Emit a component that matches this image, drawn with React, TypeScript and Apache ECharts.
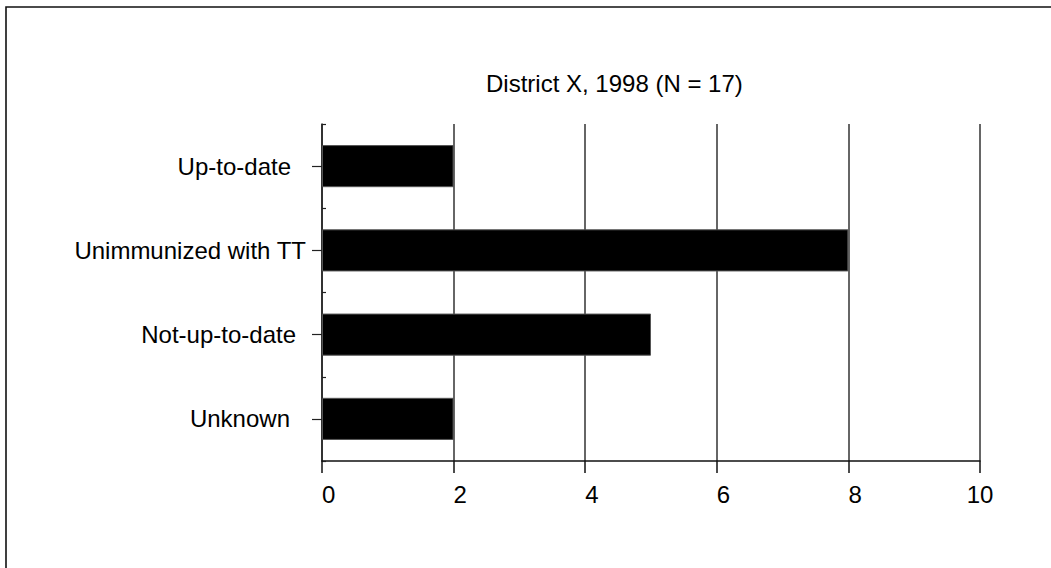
import React, { useEffect, useRef } from 'react';
import * as echarts from 'echarts';

const categories = ['Up-to-date', 'Unimmunized with TT', 'Not-up-to-date', 'Unknown'];
const counts = [2, 8, 5, 2];
const xMin = 0;
const xMax = 10;
const xInterval = 2;
const titleText = 'District X, 1998 (N = 17)';

// per-label extra right padding (styling only)
const labelRightPad = [15, 0, 10, 16];

export default function App() {
  const ref = useRef<HTMLDivElement>(null);
  useEffect(() => {
    const chart = echarts.init(ref.current!, null, { renderer: 'svg' });
    const font = 'Arial, "Liberation Sans", sans-serif';
    const rich: any = {};
    labelRightPad.forEach((p, i) => {
      rich['p' + i] = { padding: [0, p, 0, 0], fontSize: 24, fontFamily: font, color: '#000', lineHeight: 24 };
    });
    chart.setOption({
      animation: false,
      backgroundColor: '#fff',
      textStyle: { fontFamily: font },
      title: {
        text: titleText,
        left: 486,
        top: 71.5,
        padding: 0,
        textStyle: { fontSize: 24, fontWeight: 'normal', color: '#000', fontFamily: font, lineHeight: 24 },
      },
      graphic: [
        {
          type: 'rect',
          silent: true,
          shape: { x: 6, y: 7, width: 1200, height: 700 },
          style: { fill: 'none', stroke: '#111', lineWidth: 1.6 },
        },
      ],
      grid: { left: 322, right: 71, top: 124, bottom: 107, containLabel: false },
      xAxis: {
        type: 'value',
        min: xMin,
        max: xMax,
        interval: xInterval,
        axisLine: { show: true, lineStyle: { color: '#111', width: 1.5 } },
        axisTick: { show: true, length: 12, lineStyle: { color: '#111', width: 1.5 } },
        axisLabel: {
          margin: 21,
          formatter: (v: number) => `{n|${v}}`,
          rich: { n: { width: 26.7, align: 'right', fontSize: 24, fontFamily: font, color: '#000', lineHeight: 24 } },
        },
        splitLine: { show: true, lineStyle: { color: '#333', width: 1.5 } },
      },
      yAxis: [
        {
          type: 'category',
          data: categories,
          inverse: true,
          position: 'left',
          axisLine: { show: true, lineStyle: { color: '#222', width: 1.5 } },
          axisTick: { show: true, alignWithLabel: true, length: 10, lineStyle: { color: '#222', width: 1.2 } },
          axisLabel: {
            margin: 16,
            formatter: (v: string, i: number) => `{p${i}|${v}}`,
            rich,
          },
          splitLine: { show: false },
        },
        {
          type: 'category',
          data: categories,
          inverse: true,
          position: 'left',
          axisLine: { show: false },
          axisTick: { show: true, inside: true, alignWithLabel: false, length: 4, lineStyle: { color: '#222', width: 1.2 } },
          axisLabel: { show: false },
          splitLine: { show: false },
        },
      ],
      series: [
        {
          type: 'bar',
          yAxisIndex: 0,
          data: counts,
          barWidth: '50%',
          itemStyle: { color: '#000', borderColor: '#555', borderWidth: 1 },
        },
      ],
    });
    return () => chart.dispose();
  }, []);
  return (
    <div
      ref={ref}
      style={{ position: 'fixed', left: 0, top: 0, width: 1051, height: 568, background: '#fff' }}
    />
  );
}
